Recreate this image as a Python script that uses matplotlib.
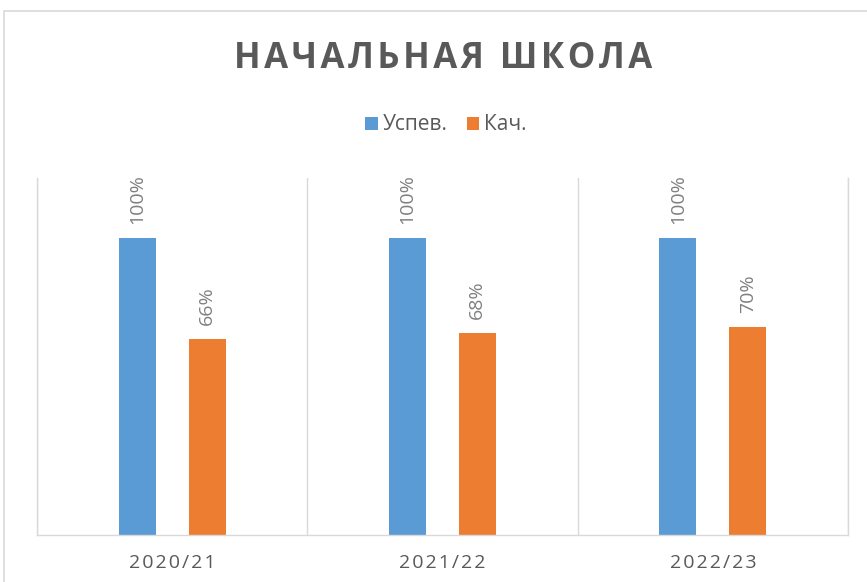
import matplotlib.pyplot as plt
import numpy as np
from matplotlib.patches import Rectangle

categories = ["2020/21", "2021/22", "2022/23"]
uspev = [100, 100, 100]
kach = [66, 68, 70]
series_names = ["Успев.", "Кач."]

BLUE = "#5B9BD5"
ORANGE = "#ED7D31"
GRID = "#D9D9D9"
TEXT = "#595959"

plt.rcParams["font.family"] = ["Open Sans", "DejaVu Sans"]


def spaced(s, sep="\u200a"):
    return sep.join(s)


fig = plt.figure(figsize=(8.67, 5.82), dpi=100)
ax = fig.add_axes([37 / 867, 1 - 535 / 582, 811 / 867, 357 / 582])

# outer chart border (only left and top visible in the crop)
fig.patches.append(Rectangle((4 / 867, -0.1), 1.2, 1 - 11 / 582 + 0.1,
                             transform=fig.transFigure, fill=False,
                             edgecolor=GRID, linewidth=1.2))

x = np.arange(len(categories))
w = 0.137
off = 0.129
b1 = ax.bar(x - off, uspev, w, color=BLUE, label=series_names[0])
b2 = ax.bar(x + off, kach, w, color=ORANGE, label=series_names[1])

for bars in (b1, b2):
    ax.bar_label(bars, labels=[f"{v}%" for v in bars.datavalues], rotation=90,
                 padding=10, color="#7F7F7F", fontsize=14)

ax.set_xlim(-0.5, 2.5)
ax.set_ylim(0, 120)
ax.set_yticks([])
ax.set_xticks(x)
ax.set_xticklabels([spaced(c) for c in categories], color=TEXT, fontsize=14)
ax.tick_params(axis="x", length=0, pad=14)
ax.set_xticks(np.arange(-0.5, 3, 1), minor=True)
ax.tick_params(axis="x", which="minor", length=0)
ax.grid(axis="x", which="minor", color=GRID, linewidth=1)
ax.spines["top"].set_visible(False)
for side in ("left", "right", "bottom"):
    ax.spines[side].set_color(GRID)
    ax.spines[side].set_linewidth(1)

fig.text(443 / 867, 1 - 59 / 582, spaced("НАЧАЛЬНАЯ ШКОЛА"), ha="center", va="center",
         fontsize=25, fontweight="bold", color=TEXT)

fig.legend(loc="center", bbox_to_anchor=(446 / 867, 1 - 125 / 582), ncol=2,
           frameon=False, fontsize=15, labelcolor=TEXT, handlelength=0.6,
           handleheight=0.6, handletextpad=0.25, columnspacing=0.9)

fig.savefig("out.png", dpi=100)
